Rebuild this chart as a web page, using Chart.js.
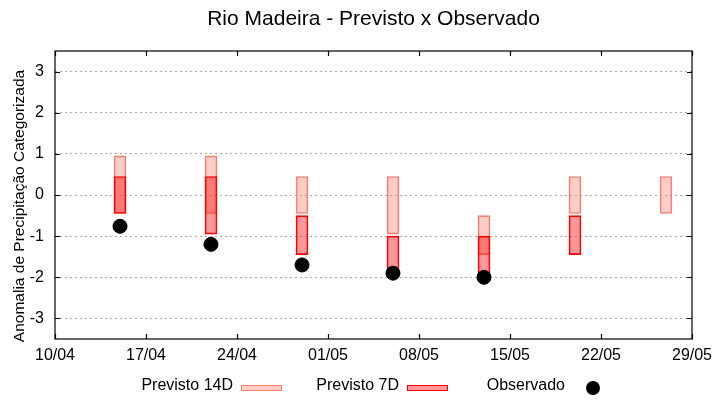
<!DOCTYPE html>
<html>
<head>
<meta charset="utf-8">
<script src="https://cdn.jsdelivr.net/npm/chart.js@4/dist/chart.umd.min.js"></script>
<style>
  body { margin: 0; background: #fff; }
  canvas { display: block; }
</style>
</head>
<body>
<canvas id="myChart" width="720" height="400"></canvas>
<script>
// dados
const datas = ['15/04', '22/04', '29/04', '06/05', '13/05', '20/05', '27/05'];
const prev14Min = [-0.45, -0.45, -0.45, -0.95, -1.45, -0.45, -0.45];
const prev14Max = [0.95, 0.95, 0.45, 0.45, -0.5, 0.45, 0.45];
const prev7Min = [-0.45, -0.95, -1.45, -1.95, -1.95, -1.45, null];
const prev7Max = [0.45, 0.45, -0.5, -1.0, -1.0, -0.5, null];
const observado = [-0.76, -1.2, -1.7, -1.9, -2.0, null, null];
const rotulosX = ['10/04', '17/04', '24/04', '01/05', '08/05', '15/05', '22/05', '29/05'];
const rotulosY = [-3, -2, -1, 0, 1, 2, 3];

// dias desde 10/04
function dia(s) {
    var p = s.split('/');
    return (Date.UTC(2000, p[1] - 1, +p[0]) - Date.UTC(2000, 3, 10)) / 86400000;
}

window.onload = function () {
    const ctx = document.getElementById('myChart');
    const fonte = '"Liberation Sans", Arial, sans-serif';

    var d14 = [], d7 = [], dObs = [];
    for (var i = 0; i < datas.length; i++) {
        d14.push({x: dia(datas[i]), y: [prev14Min[i], prev14Max[i]]});
        if (prev7Min[i] !== null) d7.push({x: dia(datas[i]), y: [prev7Min[i], prev7Max[i]]});
        if (observado[i] !== null) dObs.push({x: dia(datas[i]), y: observado[i]});
    }

    const moldura = {
        id: 'moldura',
        afterDatasetsDraw(chart) {
            const c = chart.ctx, a = chart.chartArea;
            const sx = chart.scales.x, sy = chart.scales.y;
            c.save();
            c.strokeStyle = '#000';
            c.lineWidth = 1.2;
            c.strokeRect(a.left, a.top, a.right - a.left, a.bottom - a.top);
            c.beginPath();
            rotulosY.forEach(function (v) {
                var y = Math.round(sy.getPixelForValue(v)) + 0.5;
                c.moveTo(a.left, y); c.lineTo(a.left + 5, y);
                c.moveTo(a.right, y); c.lineTo(a.right - 5, y);
            });
            rotulosX.forEach(function (r) {
                var x = Math.round(sx.getPixelForValue(dia(r))) + 0.5;
                c.moveTo(x, a.bottom); c.lineTo(x, a.bottom - 5);
                c.moveTo(x, a.top); c.lineTo(x, a.top + 5);
            });
            c.stroke();
            c.restore();
        },
        afterDraw(chart) {
            const c = chart.ctx, a = chart.chartArea;
            c.save();
            c.fillStyle = '#000';
            c.textAlign = 'center';
            c.textBaseline = 'middle';
            c.font = '21px ' + fonte;
            c.fillText('Rio Madeira - Previsto x Observado', (a.left + a.right) / 2, 19);
            c.font = '15.5px ' + fonte;
            c.translate(20, 206);
            c.rotate(-Math.PI / 2);
            c.fillText('Anomalia de Precipitação Categorizada', 0, 0);
            c.restore();

            // legenda
            c.save();
            c.font = '16px ' + fonte;
            c.textAlign = 'right';
            c.textBaseline = 'middle';
            var amostras = [241, 407, 573];
            chart.data.datasets.forEach(function (ds, k) {
                var x0 = amostras[k];
                c.fillStyle = '#000';
                c.fillText(ds.label, x0 - 8, 386);
                if (ds.type === 'line') {
                    c.beginPath();
                    c.arc(x0 + 20, 388, 7, 0, Math.PI * 2);
                    c.fill();
                } else {
                    c.fillStyle = ds.backgroundColor;
                    c.fillRect(x0, 385, 41, 6);
                    c.strokeStyle = ds.borderColor;
                    c.lineWidth = 1;
                    c.strokeRect(x0 + 0.5, 385.5, 40, 5);
                }
            });
            c.restore();
        }
    };

    const myChart = new Chart(ctx, {
        type: 'bar',
        data: {
            datasets: [{
                label: 'Previsto 14D',
                data: d14,
                backgroundColor: 'rgba(250,128,114,0.4)',
                borderColor: '#f08070',
                borderWidth: 1,
                borderSkipped: false,
                barThickness: 12,
                grouped: false,
                order: 3
            }, {
                label: 'Previsto 7D',
                data: d7,
                backgroundColor: 'rgba(255,0,0,0.4)',
                borderColor: '#ff0000',
                borderWidth: 1,
                borderSkipped: false,
                barThickness: 12,
                grouped: false,
                order: 2
            }, {
                type: 'line',
                label: 'Observado',
                data: dObs,
                showLine: false,
                pointRadius: 7,
                pointBackgroundColor: '#000',
                pointBorderColor: '#000',
                order: 1
            }]
        },
        options: {
            responsive: false,
            animation: false,
            layout: { padding: { top: 51, left: 0, right: 28, bottom: 31 } },
            scales: {
                x: {
                    type: 'linear',
                    offset: false,
                    min: 0,
                    max: dia(rotulosX[rotulosX.length - 1]),
                    afterBuildTicks: function (s) {
                        s.ticks = rotulosX.map(function (r) { return {value: dia(r)}; });
                    },
                    afterFit: function (s) { s.height = 30; },
                    grid: { display: false, drawTicks: false, offset: false },
                    border: { display: false },
                    ticks: {
                        color: '#000',
                        padding: 7,
                        maxRotation: 0,
                        autoSkip: false,
                        font: { family: fonte, size: 16 },
                        callback: function (v) { return rotulosX[v / 7]; }
                    }
                },
                y: {
                    min: -3.5,
                    max: 3.5,
                    afterBuildTicks: function (s) {
                        s.ticks = rotulosY.map(function (v) { return {value: v}; });
                    },
                    afterFit: function (s) { s.width = 55; },
                    grid: { color: '#a8a8a8', drawTicks: false },
                    border: { display: false, dash: [2, 3] },
                    ticks: {
                        color: '#000',
                        padding: 11,
                        font: { family: fonte, size: 16 }
                    }
                }
            },
            plugins: {
                legend: { display: false },
                tooltip: { enabled: false }
            }
        },
        plugins: [moldura]
    });
}
</script>
</body>
</html>
